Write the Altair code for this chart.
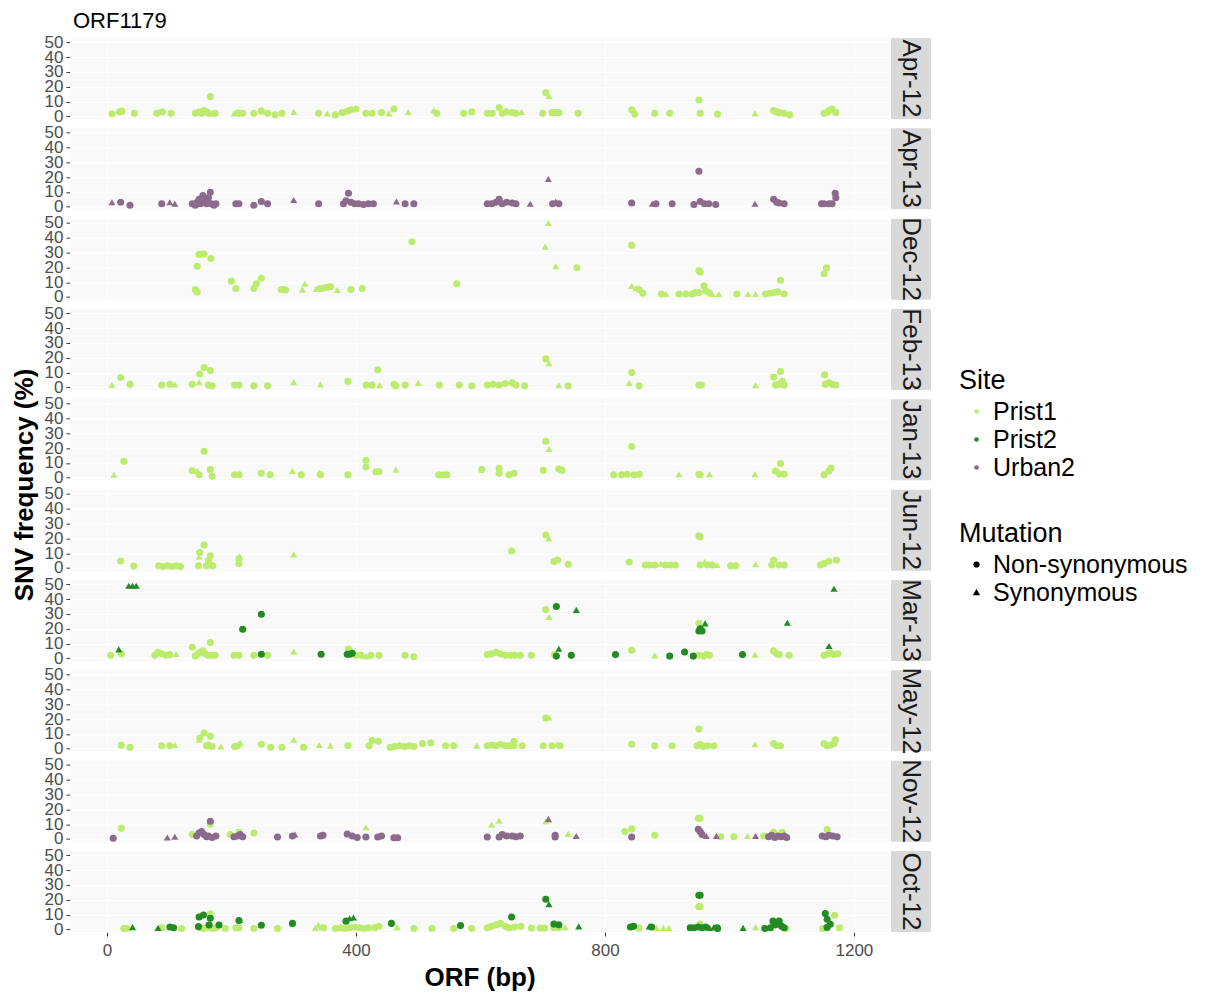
import altair as alt
import pandas as pd

MONTHS = ["Apr-12", "Apr-13", "Dec-12", "Feb-13", "Jan-13",
          "Jun-12", "Mar-13", "May-12", "Nov-12", "Oct-12"]
SITES = ["Prist1", "Prist2", "Urban2"]
SITE_COLORS = ["#BDEB6E", "#228B22", "#8B6A8B"]
MUTATIONS = ["Non-synonymous", "Synonymous"]
MUT_CODE = {"n": "Non-synonymous", "s": "Synonymous"}
X_TICKS = [0, 400, 800, 1200]
Y_TICKS = [0, 10, 20, 30, 40, 50]

# each point: (ORF position in bp, SNV frequency in %, mutation n=non-syn / s=syn)
APR12_PRIST1 = [
    (8, 1.8, "n"), (20, 3, "n"), (24, 3.5, "n"), (44, 2, "n"), (80, 2, "n"), (89, 3, "n"), (103, 2, "n"),
    (142, 2, "n"), (148, 3, "n"), (152, 2, "n"), (156, 4, "n"), (160, 3, "n"), (163, 2, "n"), (166, 13.3, "n"),
    (170, 2, "s"), (174, 2, "n"), (204, 2, "s"), (208, 3, "s"), (212, 2, "n"), (218, 2, "n"),
    (236, 2, "n"), (248, 3.5, "n"), (258, 2, "n"), (270, 1, "n"), (281, 2, "n"), (300, 3, "s"),
    (340, 2, "n"), (354, 2, "s"), (367, 1, "n"), (378, 2.5, "n"), (386, 3.5, "n"), (392, 4.5, "n"), (400, 5, "n"),
    (416, 2, "n"), (426, 2, "n"), (441, 2.5, "n"), (453, 2, "s"), (461, 5, "n"), (484, 3, "s"),
    (525, 4, "s"), (530, 2, "n"), (573, 2, "n"), (586, 3, "n"),
    (611, 2, "n"), (619, 2, "n"), (630, 6, "n"), (635, 2, "n"), (642, 3, "n"), (651, 2.5, "n"), (657, 2, "n"),
    (666, 3, "s"), (700, 2, "n"), (705, 16, "n"), (710, 13.7, "s"), (715, 2.5, "n"), (720, 2.5, "n"),
    (726, 2.5, "n"), (757, 2, "n"), (843, 4.5, "n"), (848, 1.5, "n"), (880, 2, "n"), (904, 2, "n"),
    (951, 11, "n"), (953, 2, "n"), (981, 1.5, "n"), (1041, 2, "s"), (1071, 4, "n"), (1076, 3, "n"),
    (1080, 2.5, "n"), (1088, 2, "n"), (1097, 1, "n"), (1152, 2, "n"), (1158, 3, "n"), (1160, 4, "n"),
    (1165, 5, "n"), (1171, 2.5, "n"),
]

APR13_URBAN2 = [
    (8, 3, "s"), (22, 3, "n"), (37, 1, "n"), (88, 2, "n"), (101, 3, "s"), (109, 2, "s"),
    (137, 2, "n"), (142, 1, "n"), (145, 3, "n"), (148, 5, "n"), (150, 2, "n"), (154, 7.5, "n"), (158, 4, "n"),
    (160, 2, "n"), (163, 6, "n"), (166, 9.7, "n"), (168, 2, "n"), (172, 1, "n"), (175, 2, "n"),
    (207, 2, "n"), (212, 2, "n"), (236, 1, "n"), (248, 3.5, "n"), (258, 2, "n"), (300, 4.5, "s"), (340, 2, "n"),
    (380, 2, "n"), (384, 4, "n"), (388, 9, "n"), (392, 3, "n"), (398, 2, "n"), (404, 2, "n"), (412, 1.5, "n"),
    (420, 2, "n"), (428, 2, "n"), (465, 3.5, "s"), (479, 2, "n"), (493, 2, "n"),
    (611, 2, "n"), (618, 2, "n"), (625, 3, "n"), (630, 5, "n"), (635, 2, "n"), (642, 3, "n"), (651, 2.5, "n"),
    (657, 2, "n"), (680, 2, "s"), (709, 18.7, "s"), (716, 2, "n"), (721, 3.5, "s"), (726, 2, "n"),
    (843, 2.5, "n"), (876, 2, "s"), (882, 2, "n"), (908, 2, "n"), (943, 1.5, "n"), (951, 23.9, "n"),
    (953, 3.5, "n"), (960, 2, "n"), (967, 2, "n"), (978, 1.5, "n"), (1041, 2, "s"), (1071, 5, "n"),
    (1076, 3, "n"), (1080, 2.5, "n"), (1088, 2, "n"), (1148, 2, "n"), (1152, 2, "n"), (1160, 2, "n"),
    (1165, 2, "n"), (1170, 9, "n"), (1171, 6, "n"),
]

DEC12_PRIST1 = [
    (142, 5, "n"), (145, 3.3, "n"), (145, 20.8, "n"), (148, 28.7, "n"), (152, 29, "n"), (156, 29, "n"),
    (167, 26, "n"), (200, 10.7, "n"), (207, 5.7, "n"), (236, 5.7, "n"), (240, 9, "n"), (248, 12.6, "n"),
    (280, 5, "n"), (284, 5, "n"), (287, 4.7, "n"), (314, 5, "s"), (318, 9, "s"), (336, 5.5, "s"),
    (342, 5.5, "n"), (348, 6, "n"), (354, 6.5, "n"), (359, 7, "n"), (370, 4.7, "s"), (392, 5, "n"),
    (410, 5.7, "n"), (490, 37.3, "n"), (562, 9, "n"), (704, 34, "s"), (709, 50, "s"), (721, 20.8, "s"),
    (755, 19.7, "n"), (843, 35, "n"), (843, 7.5, "s"), (850, 6, "s"), (855, 5, "n"), (861, 2.5, "n"),
    (891, 2, "n"), (898, 2, "s"), (919, 2, "n"), (930, 2, "n"), (940, 2, "n"), (945, 3, "n"), (951, 3, "n"),
    (951, 17.9, "n"), (953, 16.8, "n"), (959, 7.5, "n"), (962, 4, "n"), (967, 3, "n"), (972, 2, "s"),
    (983, 2, "s"), (1012, 2, "n"), (1030, 2, "s"), (1042, 2, "s"), (1058, 2, "n"), (1065, 2.5, "n"),
    (1072, 3, "n"), (1078, 3.5, "n"), (1082, 11.3, "n"), (1088, 2, "n"), (1152, 15.7, "n"), (1156, 19.7, "n"),
]

FEB13_PRIST1 = [
    (8, 1.7, "s"), (22, 6.6, "n"), (37, 2, "n"), (88, 1.5, "n"), (101, 2, "n"), (109, 2, "s"),
    (137, 2, "n"), (148, 3.5, "s"), (149, 9, "n"), (156, 13.4, "n"), (163, 1.5, "n"), (166, 11.3, "n"),
    (169, 1, "n"), (205, 1.5, "n"), (212, 1.5, "n"), (236, 1, "n"), (258, 1, "n"), (300, 3.5, "s"),
    (343, 2, "s"), (387, 4, "n"), (416, 1.5, "n"), (426, 1.5, "n"), (435, 11.8, "n"), (438, 1.5, "s"),
    (461, 2, "n"), (464, 1, "n"), (479, 1.5, "n"), (500, 3, "s"), (534, 1.5, "n"), (566, 1.5, "n"),
    (586, 1, "n"), (611, 1.5, "n"), (620, 2, "n"), (630, 1.5, "n"), (640, 2.5, "n"), (651, 3, "n"),
    (657, 1.5, "n"), (671, 1, "n"), (705, 19.2, "n"), (710, 16.3, "s"), (726, 1.5, "s"), (741, 1, "n"),
    (839, 3, "s"), (843, 10, "n"), (855, 1, "n"), (951, 1.5, "n"), (955, 1.5, "n"), (1042, 1.5, "s"),
    (1071, 6.9, "n"), (1074, 1.5, "n"), (1080, 2, "n"), (1082, 10.7, "n"), (1085, 4, "n"), (1088, 1.5, "n"),
    (1153, 8.4, "n"), (1154, 2, "n"), (1160, 3, "n"), (1165, 2, "n"), (1171, 1.5, "n"),
]

JAN13_PRIST1 = [
    (11, 2, "s"), (27, 11, "n"), (137, 4.7, "n"), (145, 4.7, "s"), (148, 2, "n"), (156, 17.8, "n"),
    (166, 5.4, "n"), (169, 1, "n"), (205, 2, "n"), (212, 2, "n"), (248, 3, "n"), (262, 2, "n"),
    (298, 4.5, "s"), (312, 2, "n"), (341, 3.5, "s"), (343, 2, "n"), (387, 2, "n"), (416, 11.7, "n"),
    (416, 7.2, "n"), (432, 4, "n"), (437, 4, "n"), (464, 5.4, "s"), (533, 2, "n"), (540, 2, "n"),
    (546, 2, "n"), (602, 5.4, "n"), (630, 6.3, "n"), (630, 3, "n"), (646, 2, "n"), (654, 3, "n"),
    (701, 4.9, "n"), (705, 24.5, "n"), (710, 19.4, "s"), (726, 5.8, "n"), (731, 4.9, "n"),
    (814, 2, "n"), (827, 2, "n"), (836, 2.3, "n"), (843, 21, "n"), (847, 2, "n"), (855, 2.3, "n"),
    (919, 2.3, "s"), (951, 2.3, "n"), (953, 2, "n"), (968, 2.3, "s"), (1041, 2.3, "s"),
    (1074, 4.5, "n"), (1080, 2.5, "n"), (1082, 9.5, "n"), (1088, 2.5, "n"),
    (1152, 2, "n"), (1160, 4.5, "n"), (1163, 6.5, "n"),
]

JUN12_PRIST1 = [
    (22, 4.7, "n"), (43, 1.3, "n"), (83, 1.5, "n"), (90, 1, "n"), (97, 1.5, "n"), (104, 1, "n"),
    (111, 1.5, "n"), (118, 1, "n"), (147, 1.5, "n"), (148, 7.6, "s"), (149, 10.4, "n"), (156, 15.5, "n"),
    (160, 1.5, "n"), (163, 5, "n"), (166, 8.3, "n"), (170, 1.5, "n"), (212, 6.3, "n"), (212, 3, "n"),
    (213, 8, "s"), (300, 9.2, "s"), (650, 11.5, "n"), (718, 4.3, "n"), (724, 5.4, "n"), (741, 2.5, "n"),
    (705, 22.3, "n"), (710, 20, "s"), (839, 4, "n"), (865, 2, "n"), (872, 2, "n"), (880, 2, "n"),
    (890, 3, "s"), (897, 2, "n"), (905, 2, "n"), (913, 2, "n"), (951, 21.8, "n"), (953, 21, "n"),
    (953, 2, "n"), (960, 4, "s"), (965, 2, "n"), (972, 2, "n"), (980, 2, "s"), (1002, 1.5, "n"),
    (1010, 1.5, "n"), (1042, 2.5, "s"), (1068, 2, "n"), (1071, 5.4, "n"), (1080, 2, "n"), (1088, 2, "n"),
    (1146, 2, "n"), (1152, 3, "n"), (1160, 4.5, "n"), (1172, 5.4, "n"),
]

MAR13_PRIST1 = [
    (6, 2, "n"), (23, 3, "n"), (77, 2, "n"), (82, 4, "n"), (88, 3, "n"), (95, 2, "n"), (101, 2.5, "n"),
    (111, 3, "s"), (137, 7.5, "n"), (142, 1.5, "n"), (146, 3, "n"), (150, 4, "n"), (154, 5, "n"),
    (158, 3, "n"), (162, 2, "n"), (166, 10.6, "n"), (168, 2, "n"), (174, 2, "n"), (204, 2, "n"),
    (212, 2, "n"), (236, 2, "n"), (258, 2, "n"), (300, 4.7, "s"), (388, 6.3, "n"), (392, 4, "n"),
    (400, 2, "n"), (408, 2, "n"), (416, 1.5, "s"), (424, 2, "n"), (437, 2, "n"), (479, 2, "n"),
    (493, 1, "n"), (611, 2.5, "n"), (618, 3, "n"), (625, 4, "n"), (632, 3, "n"), (640, 2, "n"),
    (648, 2, "n"), (655, 2, "n"), (664, 2, "n"), (682, 2, "n"), (705, 33, "n"), (710, 28, "s"),
    (719, 2.5, "n"), (843, 5.4, "n"), (880, 2, "s"), (951, 23.6, "n"), (951, 2, "n"), (958, 1.5, "n"),
    (963, 2.5, "n"), (968, 2, "n"), (1041, 2.5, "s"), (1071, 5, "n"), (1076, 3, "n"), (1080, 2.5, "n"),
    (1096, 2, "n"), (1152, 2, "n"), (1158, 3, "n"), (1163, 3.5, "n"), (1168, 2.5, "n"), (1174, 3, "n"),
]

MAR13_PRIST2 = [
    (35, 49, "s"), (41, 49, "s"), (47, 49, "s"), (19, 6, "s"), (218, 19.6, "n"), (248, 29.7, "n"),
    (248, 2.7, "n"), (344, 2.7, "n"), (386, 2.7, "n"), (390, 2.7, "n"), (394, 3.4, "n"),
    (722, 35, "n"), (754, 32.7, "s"), (726, 6.5, "s"), (722, 1.5, "n"), (746, 2, "n"), (817, 2.5, "n"),
    (904, 1.5, "n"), (928, 4.3, "n"), (942, 1.5, "n"), (961, 23.6, "s"), (951, 18.5, "n"),
    (956, 18.5, "n"), (953, 20, "n"), (1021, 2.5, "n"), (1093, 24, "s"), (1160, 8.3, "s"), (1168, 47, "s"),
]

MAY12_PRIST1 = [
    (23, 2.2, "n"), (37, 1, "n"), (88, 2, "n"), (101, 2, "n"), (109, 2.5, "s"), (148, 6, "s"),
    (149, 7.2, "n"), (156, 10.6, "n"), (160, 2, "n"), (163, 2.5, "n"), (166, 8.3, "n"), (169, 1.5, "n"),
    (183, 1.5, "s"), (205, 1.5, "n"), (210, 2, "n"), (214, 4, "s"), (248, 3, "n"), (263, 1, "n"),
    (281, 1, "n"), (300, 6, "s"), (316, 1, "n"), (341, 2.5, "s"), (359, 2, "s"), (387, 2, "n"),
    (421, 2, "n"), (426, 5.5, "n"), (436, 5, "n"), (455, 1, "n"), (462, 1.5, "n"), (470, 2, "n"),
    (478, 1.5, "n"), (486, 2, "n"), (493, 1.5, "n"), (507, 3.5, "n"), (520, 4, "n"), (544, 2, "n"),
    (557, 2, "n"), (594, 2, "s"), (611, 2, "n"), (618, 2.5, "n"), (625, 2, "n"), (632, 3, "n"),
    (640, 2, "n"), (646, 2, "n"), (654, 5, "n"), (654, 2, "n"), (667, 2, "n"), (701, 2, "n"),
    (705, 20.7, "n"), (710, 21, "s"), (715, 2, "n"), (723, 3, "s"), (728, 2, "n"), (843, 3, "n"),
    (880, 2, "n"), (908, 2, "n"), (948, 2, "n"), (951, 13.3, "n"), (953, 3, "n"), (958, 1.5, "n"),
    (965, 2, "n"), (975, 2, "n"), (1041, 3, "s"), (1071, 3.5, "n"), (1076, 2, "n"), (1082, 2, "n"),
    (1152, 3.5, "n"), (1157, 2, "n"), (1163, 2.5, "n"), (1168, 3.5, "n"), (1170, 6, "n"),
]

NOV12_PRIST1 = [
    (23, 7.2, "n"), (137, 3, "n"), (166, 10, "n"), (198, 3, "n"), (212, 4.5, "n"), (236, 4, "n"),
    (416, 7.9, "s"), (618, 9.7, "s"), (630, 12.4, "s"), (705, 12, "s"), (710, 12.8, "s"), (741, 3.5, "s"),
    (832, 5, "n"), (843, 6.8, "n"), (880, 2.5, "n"), (950, 14, "n"), (953, 14, "n"), (986, 1.5, "n"),
    (1007, 1.5, "n"), (1029, 2, "s"), (1055, 2, "n"), (1071, 4.5, "n"), (1085, 4.5, "n"), (1157, 6.3, "n"),
]

NOV12_URBAN2 = [
    (10, 0.5, "n"), (97, 1, "s"), (109, 1.5, "s"), (144, 2, "n"), (148, 4, "n"), (152, 5, "n"),
    (156, 3, "n"), (160, 1.5, "n"), (163, 2, "n"), (166, 12, "n"), (169, 1, "n"), (175, 2, "n"),
    (204, 1.5, "n"), (210, 2, "n"), (214, 3, "n"), (218, 1.5, "n"), (274, 1.3, "n"), (298, 2, "n"),
    (302, 3, "s"), (343, 2, "n"), (347, 2.5, "n"), (386, 3.4, "n"), (394, 2, "n"), (402, 1, "n"),
    (416, 1.3, "n"), (435, 1.3, "n"), (441, 2, "n"), (461, 0.8, "n"), (467, 0.8, "n"), (611, 1.3, "n"),
    (630, 1.3, "n"), (635, 3, "n"), (642, 2, "n"), (651, 2, "n"), (657, 1.5, "n"), (664, 2, "n"),
    (709, 13.5, "s"), (720, 2.5, "n"), (720, 1.3, "n"), (754, 2, "s"), (843, 1.3, "n"), (950, 6.5, "n"),
    (953, 5, "n"), (956, 3, "n"), (963, 2, "s"), (979, 2, "s"), (1042, 2, "s"), (1063, 1.5, "n"),
    (1068, 2.5, "n"), (1073, 1, "n"), (1078, 2, "n"), (1083, 1.5, "n"), (1088, 2, "n"), (1092, 1, "n"),
    (1149, 2, "n"), (1155, 1.5, "n"), (1160, 2.5, "n"), (1166, 2, "n"), (1173, 1.5, "n"),
]

OCT12_PRIST1 = [
    (27, 0.5, "n"), (32, 0.5, "n"), (88, 1, "n"), (120, 0.5, "n"), (150, 1, "n"), (155, 0.5, "n"),
    (160, 1, "n"), (166, 10.5, "n"), (170, 0.5, "n"), (175, 1, "n"), (190, 0.5, "n"), (207, 1, "n"),
    (212, 1, "n"), (236, 0.5, "n"), (274, 0.5, "n"), (335, 1, "s"), (340, 3, "s"), (345, 1.5, "s"),
    (348, 1, "n"), (367, 0.5, "n"), (375, 1, "n"), (382, 0.5, "n"), (390, 1, "n"), (398, 1.5, "n"),
    (405, 1, "n"), (412, 0.5, "n"), (420, 1, "n"), (430, 1, "n"), (437, 2, "n"), (466, 1.5, "s"),
    (493, 0.5, "n"), (522, 0.5, "n"), (557, 0.5, "n"), (586, 0.5, "n"), (611, 1, "n"), (618, 2, "n"),
    (625, 3, "n"), (632, 4, "n"), (640, 2, "n"), (646, 1, "n"), (655, 1.5, "n"), (665, 2, "n"),
    (682, 0.8, "n"), (696, 0.8, "n"), (703, 0.8, "n"), (718, 1, "n"), (726, 1, "n"), (736, 1.5, "s"),
    (855, 0.8, "n"), (883, 1, "s"), (894, 1, "s"), (903, 1, "s"), (951, 15.3, "n"), (953, 15.3, "n"),
    (953, 3.5, "n"), (1042, 1.5, "s"), (1091, 0.5, "n"), (1150, 0.5, "n"), (1169, 9.5, "n"), (1177, 1, "n"),
]

OCT12_PRIST2 = [
    (41, 1.5, "s"), (82, 1, "s"), (101, 1.5, "n"), (107, 1, "n"), (147, 1.8, "n"), (148, 8.3, "n"),
    (155, 9.7, "n"), (164, 2.9, "n"), (166, 7.5, "n"), (180, 2.9, "n"), (213, 6.3, "s"), (212, 6, "n"),
    (248, 2.7, "n"), (298, 4, "n"), (384, 5.5, "n"), (390, 7.5, "s"), (396, 8, "s"), (457, 4, "n"),
    (568, 2.5, "n"), (650, 8.3, "n"), (705, 20.3, "n"), (710, 17, "s"), (718, 3.5, "n"), (726, 3, "n"),
    (758, 2, "s"), (841, 1.5, "n"), (846, 2, "n"), (871, 2, "s"), (875, 1.5, "n"), (951, 23, "n"),
    (953, 23, "n"), (937, 1, "n"), (943, 1, "n"), (950, 1.5, "n"), (956, 1, "n"), (962, 1.5, "n"),
    (968, 1, "s"), (975, 1.5, "s"), (980, 1, "n"), (981, 0.5, "n"), (1022, 1, "s"), (1057, 0.5, "n"),
    (1066, 1, "n"), (1070, 5.5, "n"), (1074, 3, "n"), (1080, 5.5, "n"), (1084, 2, "n"), (1088, 1, "n"),
    (1154, 10.6, "n"), (1157, 6.8, "n"), (1162, 3.4, "n"), (1157, 1.3, "n"),
]

SERIES = [
    ("Apr-12", "Prist1", APR12_PRIST1),
    ("Apr-13", "Urban2", APR13_URBAN2),
    ("Dec-12", "Prist1", DEC12_PRIST1),
    ("Feb-13", "Prist1", FEB13_PRIST1),
    ("Jan-13", "Prist1", JAN13_PRIST1),
    ("Jun-12", "Prist1", JUN12_PRIST1),
    ("Mar-13", "Prist1", MAR13_PRIST1),
    ("Mar-13", "Prist2", MAR13_PRIST2),
    ("May-12", "Prist1", MAY12_PRIST1),
    ("Nov-12", "Prist1", NOV12_PRIST1),
    ("Nov-12", "Urban2", NOV12_URBAN2),
    ("Oct-12", "Prist1", OCT12_PRIST1),
    ("Oct-12", "Prist2", OCT12_PRIST2),
]

rows = []
for month, site, pts in SERIES:
    for bp, freq, m in pts:
        rows.append({"month": month, "site": site, "mutation": MUT_CODE[m],
                     "bp": bp, "freq": freq, "kind": "pt"})
for month in MONTHS:
    rows.append({"month": month, "kind": "strip"})
data = pd.DataFrame(rows)

FONT = "Liberation Sans"
W, H = 819, 81

points = alt.Chart().transform_filter("datum.kind == 'pt'").mark_point(
    filled=True, opacity=1, size=50
).encode(
    x=alt.X("bp:Q", scale=alt.Scale(domain=[-59.4, 1256.4], nice=False, zero=False),
            axis=alt.Axis(values=X_TICKS, format="d", title="ORF (bp)", grid=True)),
    y=alt.Y("freq:Q", scale=alt.Scale(domain=[-1.8, 52.9], nice=False, zero=False),
            axis=alt.Axis(values=Y_TICKS, title=None, grid=True)),
    color=alt.Color("site:N", scale=alt.Scale(domain=SITES, range=SITE_COLORS),
                    legend=alt.Legend(title="Site", orient="none", legendX=889, legendY=330,
                                      symbolType="circle", symbolOffset=5)),
    shape=alt.Shape("mutation:N", scale=alt.Scale(domain=MUTATIONS, range=["circle", "triangle-up"]),
                    legend=alt.Legend(title="Mutation", orient="none", legendX=889, legendY=483,
                                      symbolFillColor="black", symbolStrokeColor="black",
                                      symbolOffset=5)),
)

strip_rect = alt.Chart().transform_filter("datum.kind == 'strip'").mark_rect(
    color="#D9D9D9"
).encode(
    x=alt.value(W + 2), x2=alt.value(W + 42), y=alt.value(0), y2=alt.value(H)
)

strip_text = alt.Chart().transform_filter("datum.kind == 'strip'").mark_text(
    angle=90, fontSize=26, font=FONT, color="#1A1A1A", align="center", baseline="middle"
).encode(
    x=alt.value(W + 22), y=alt.value(H / 2), text="month:N"
)

chart = alt.layer(points, strip_rect, strip_text, data=data).properties(
    width=W, height=H
).facet(
    row=alt.Row("month:N", sort=MONTHS,
                header=alt.Header(labels=False, labelPadding=0, title="SNV frequency (%)",
                                  titleOrient="left", titleAngle=-90, titleFont=FONT,
                                  titleFontSize=26, titleFontWeight="bold", titleColor="black",
                                  titlePadding=-30)),
    spacing=9.33,
    bounds="flush",
).properties(
    title=alt.Title("ORF1179", anchor="start", fontSize=22, fontWeight="normal",
                    font=FONT, color="black", offset=0, dx=61),
    padding={"left": 3, "top": 2, "right": 5, "bottom": 5},
).configure_view(
    fill="#F9F9F9", stroke=None
).configure_axis(
    labelFont=FONT, labelFontSize=17, labelColor="#4D4D4D", labelOverlap=False,
    tickColor="#333333", tickSize=4, domain=False, gridColor="white", gridWidth=1,
    titleFont=FONT, titleFontSize=26, titleFontWeight="bold", titleColor="black",
).configure_axisY(
    labelPadding=3,
).configure_axisX(
    labelPadding=6, titlePadding=6,
).configure_legend(
    titleFont=FONT, labelFont=FONT, titleFontSize=27, labelFontSize=25,
    titleFontWeight="normal", titleColor="black", labelColor="black",
    symbolSize=22, rowPadding=2, titlePadding=4, labelLimit=0,
)

chart.save("out.html", embed_options={"renderer": "svg", "actions": False})
